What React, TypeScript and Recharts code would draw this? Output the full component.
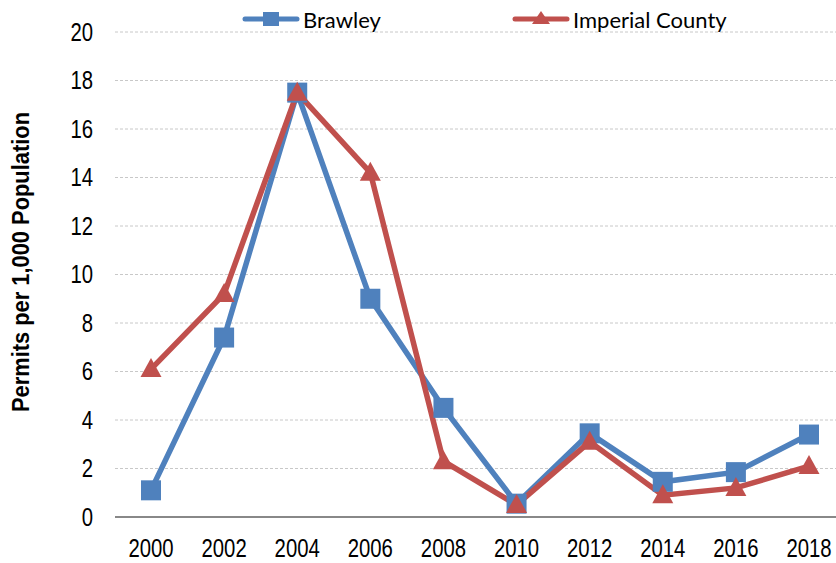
import React from 'react';
import { LineChart, Line, XAxis, YAxis, CartesianGrid } from 'recharts';

const years = ['2000', '2002', '2004', '2006', '2008', '2010', '2012', '2014', '2016', '2018'];
const brawley = [1.1, 7.4, 17.5, 9.0, 4.5, 0.55, 3.45, 1.45, 1.85, 3.4];
const imperial = [6.1, 9.2, 17.5, 14.2, 2.3, 0.5, 3.1, 0.9, 1.2, 2.1];
const yTicks = [0, 2, 4, 6, 8, 10, 12, 14, 16, 18, 20];

const BLUE = '#4F81BD';
const RED = '#C0504D';
const NARROW = '"Liberation Sans Narrow", "Arial Narrow", "Liberation Sans", Arial, sans-serif';

const data = years.map((year, i) => ({ year, brawley: brawley[i], imperial: imperial[i] }));

// no narrow font installed, so squeeze the glyphs to mimic Arial Narrow
const NarrowTick = (props: any) => {
  const { x, y, payload, textAnchor, verticalAnchor } = props;
  const label = String(payload.value);
  const dy = verticalAnchor === 'start' ? '0.71em' : '0.355em';
  return (
    <text
      x={x}
      y={y}
      dy={dy}
      textAnchor={textAnchor}
      fill="#000"
      fontSize={25}
      fontFamily={NARROW}
      textLength={label.length * 11.3}
      lengthAdjust="spacingAndGlyphs"
    >
      {label}
    </text>
  );
};

const SquareDot = (props: any) => {
  const { cx, cy } = props;
  if (cx == null || cy == null) return null;
  return <rect x={cx - 10} y={cy - 10} width={20} height={20} fill={BLUE} />;
};

const TriangleDot = (props: any) => {
  const { cx, cy } = props;
  if (cx == null || cy == null) return null;
  return <path d={`M${cx},${cy - 11} L${cx + 10.5},${cy + 8} L${cx - 10.5},${cy + 8} Z`} fill={RED} />;
};

const LegendKey: React.FC<{ color: string; shape: 'square' | 'triangle'; label: string; left: number }> = ({ color, shape, label, left }) => (
  <div style={{ position: 'absolute', left, top: 4, display: 'flex', alignItems: 'center', height: 30 }}>
    <svg width={58} height={30}>
      <line x1={3} y1={15} x2={55} y2={15} stroke={color} strokeWidth={5} strokeLinecap="round" />
      {shape === 'square'
        ? <rect x={21} y={8} width={16} height={14} fill={color} />
        : <path d="M29,7 L38,20 L20,20 Z" fill={color} />}
    </svg>
    <span style={{ fontFamily: 'Lato, "Open Sans", sans-serif', fontSize: 22, color: '#000', marginLeft: 3 }}>{label}</span>
  </div>
);

export default function App() {
  return (
    <div style={{ position: 'absolute', left: 0, top: 0, width: 836, height: 563, overflow: 'hidden', background: '#fff' }}>
      <LineChart width={845} height={563} data={data} margin={{ top: 32, right: 0, bottom: 0, left: 0 }}>
        <CartesianGrid vertical={false} stroke="#c8c8c8" strokeDasharray="3 2" />
        <XAxis
          dataKey="year"
          height={46}
          padding={{ left: 36, right: 36 }}
          stroke="#888"
          strokeWidth={2}
          tickLine={false}
          tickSize={0}
          tickMargin={22}
          tick={<NarrowTick />}
        />
        <YAxis
          width={115}
          domain={[0, 20]}
          ticks={yTicks}
          axisLine={false}
          tickLine={false}
          tickSize={0}
          tickMargin={22}
          tick={<NarrowTick />}
          label={{
            content: () => (
              <text
                x={21}
                y={262}
                transform="rotate(-90 21 262)"
                textAnchor="middle"
                dominantBaseline="central"
                textLength={300}
                lengthAdjust="spacingAndGlyphs"
                style={{ fontFamily: NARROW, fontSize: 23, fontWeight: 'bold', fill: '#000' }}
              >
                Permits per 1,000 Population
              </text>
            ),
          }}
        />
        <Line
          dataKey="brawley"
          stroke={BLUE}
          strokeWidth={5.5}
          dot={<SquareDot />}
          activeDot={false}
          isAnimationActive={false}
        />
        <Line
          dataKey="imperial"
          stroke={RED}
          strokeWidth={5.5}
          dot={<TriangleDot />}
          activeDot={false}
          isAnimationActive={false}
        />
      </LineChart>
      <LegendKey color={BLUE} shape="square" label="Brawley" left={242} />
      <LegendKey color={RED} shape="triangle" label="Imperial County" left={512} />
    </div>
  );
}
